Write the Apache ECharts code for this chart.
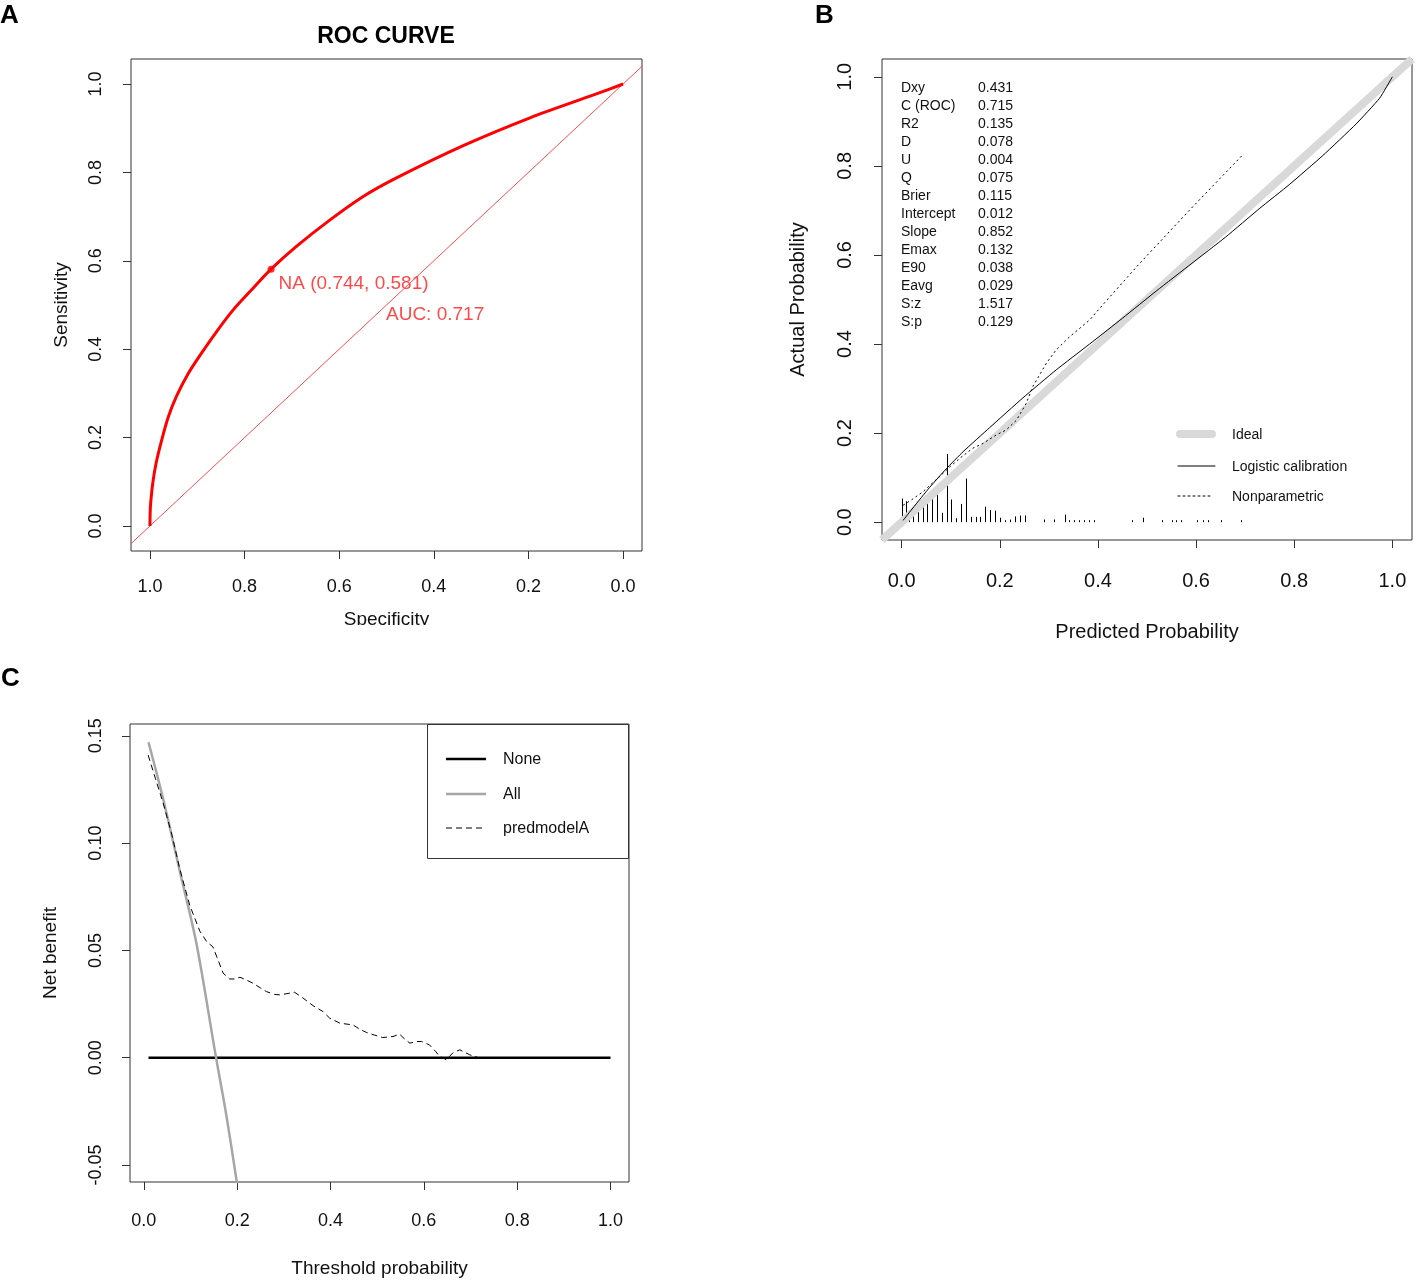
<!DOCTYPE html>
<html>
  <head>
    <meta charset="utf-8" />
    <title>ROC / calibration / decision curve</title>
    <script src="https://cdn.jsdelivr.net/npm/echarts@6.0.0/dist/echarts.min.js"></script>
    <style>
      * {
        margin: 0;
        padding: 0;
        box-sizing: border-box;
      }
      body {
        background: #fff;
      }
    </style>
  </head>
  <body>
    <div id="main" style="width: 1416px; height: 1282px"></div>
    <script type="text/javascript">
      const FONT = "Liberation Sans, Arial, sans-serif";

      // A - ROC curve (specificity / sensitivity)
      const rocSpec = [1.0, 0.9995, 0.9985, 0.994, 0.987, 0.975, 0.961, 0.944, 0.919, 0.891, 0.859, 0.824, 0.782, 0.744, 0.691, 0.62, 0.55, 0.48, 0.339, 0.198, 0.058, 0.0];
      const rocSens = [0.0, 0.03, 0.051, 0.097, 0.142, 0.195, 0.247, 0.293, 0.345, 0.391, 0.44, 0.489, 0.538, 0.581, 0.632, 0.692, 0.745, 0.787, 0.86, 0.923, 0.977, 1.0];
      const rocChance = [[1.04, -0.04], [-0.04, 1.04]];
      const bestThreshold = { name: "NA", spec: 0.744, sens: 0.581 };
      const rocAuc = 0.717;
      const aucTextAt = [0.5, 0.5];
      const unitTicks = [0, 0.2, 0.4, 0.6, 0.8, 1.0];

      // B - calibration
      const idealLine = [[-0.04, -0.04], [1.04, 1.04]];
      const logisticX = [0.003, 0.023, 0.057, 0.091, 0.125, 0.179, 0.247, 0.315, 0.383, 0.45, 0.52, 0.59, 0.66, 0.73, 0.79, 0.858, 0.926, 0.974, 1.0];
      const logisticY = [0.004, 0.032, 0.078, 0.12, 0.158, 0.212, 0.279, 0.342, 0.4, 0.458, 0.52, 0.58, 0.64, 0.705, 0.758, 0.823, 0.894, 0.952, 1.0];
      const nonparX = [0.003, 0.02, 0.043, 0.077, 0.098, 0.118, 0.145, 0.166, 0.193, 0.213, 0.234, 0.254, 0.267, 0.295, 0.315, 0.342, 0.383, 0.417, 0.485, 0.587, 0.697];
      const nonparY = [0.038, 0.05, 0.068, 0.102, 0.124, 0.143, 0.166, 0.177, 0.196, 0.207, 0.229, 0.267, 0.304, 0.357, 0.387, 0.416, 0.454, 0.497, 0.581, 0.701, 0.827];
      const spikeX = [0, 0.009, 0.016, 0.024, 0.033, 0.043, 0.051, 0.061, 0.072, 0.082, 0.092, 0.1, 0.11, 0.121, 0.132, 0.142, 0.151, 0.16, 0.17, 0.181, 0.191, 0.201, 0.211, 0.221, 0.231, 0.241, 0.251,
        0.291, 0.31, 0.332, 0.341, 0.351, 0.361, 0.371, 0.381, 0.391, 0.469, 0.491, 0.531, 0.551, 0.559, 0.57, 0.601, 0.614, 0.624, 0.651, 0.692];
      const spikeH = [0.053, 0.047, 0.025, 0.028, 0.03, 0.037, 0.043, 0.064, 0.077, 0.021, 0.153, 0.051, 0.009, 0.041, 0.098, 0.012, 0.012, 0.012, 0.035, 0.027, 0.026, 0.01, 0.0045, 0.006, 0.013, 0.015, 0.015,
        0.006, 0.006, 0.017, 0.0045, 0.0045, 0.0045, 0.0045, 0.0045, 0.0045, 0.0045, 0.01, 0.0045, 0.0045, 0.0045, 0.0045, 0.0045, 0.0045, 0.0045, 0.0045, 0.0045];
      const statNames = ["Dxy", "C (ROC)", "R2", "D", "U", "Q", "Brier", "Intercept", "Slope", "Emax", "E90", "Eavg", "S:z", "S:p"];
      const statValues = ["0.431", "0.715", "0.135", "0.078", "0.004", "0.075", "0.115", "0.012", "0.852", "0.132", "0.038", "0.029", "1.517", "0.129"];

      // C - decision curve
      const noneX = [0.01, 1.0];
      const noneY = [0, 0];
      const allX = [0.01, 0.041, 0.077, 0.113, 0.154, 0.177, 0.2];
      const allY = [0.147, 0.121, 0.087, 0.053, 0.001, -0.027, -0.059];
      const modelX = [0.0093, 0.025, 0.041, 0.06, 0.077, 0.0985, 0.12, 0.135, 0.148, 0.16, 0.17, 0.184, 0.195, 0.206, 0.22, 0.234, 0.25, 0.263, 0.28, 0.291, 0.305, 0.323, 0.34, 0.363, 0.384, 0.398,
        0.42, 0.448, 0.465, 0.477, 0.495, 0.512, 0.534, 0.548, 0.56, 0.57, 0.583, 0.595, 0.612, 0.625, 0.634, 0.648, 0.662, 0.677, 0.698, 0.716];
      const modelY = [0.141, 0.13, 0.119, 0.104, 0.088, 0.071, 0.059, 0.054, 0.0517, 0.045, 0.0394, 0.0367, 0.0367, 0.0375, 0.0362, 0.0347, 0.0325, 0.0308, 0.0295, 0.0293, 0.0298, 0.0305, 0.028, 0.0242, 0.0215, 0.0185,
        0.0161, 0.0153, 0.013, 0.0118, 0.0105, 0.0094, 0.0099, 0.011, 0.0085, 0.0068, 0.0075, 0.0076, 0.006, 0.003, 0.0006, -0.0009, 0.0022, 0.0037, 0.0014, 0.0001];
      const nbTicks = [-0.05, 0, 0.05, 0.1, 0.15];

      const zip = (xs, ys) => xs.map((x, i) => [x, ys[i]]);

      function axis(o) {
        return Object.assign(
          {
            type: "value",
            gridIndex: o.grid,
            min: o.min,
            max: o.max,
            name: o.name,
            nameLocation: "middle",
            nameGap: o.nameGap,
            nameTextStyle: { fontSize: o.nameSize, color: "#111", fontFamily: FONT },
            axisLine: { show: false, onZero: false },
            splitLine: { show: false },
            axisTick: {
              show: true,
              length: 8,
              customValues: o.ticks,
              lineStyle: { color: "#333", width: 1 },
            },
            axisLabel: {
              customValues: o.ticks,
              fontSize: o.labelSize,
              margin: o.margin,
              rotate: o.rotate || 0,
              color: "#111",
              fontFamily: FONT,
              formatter: (v) => v.toFixed(o.digits),
            },
          },
          o.extra || {}
        );
      }

      const gridStyle = {
        show: true,
        borderColor: "#333",
        borderWidth: 1,
        backgroundColor: "transparent",
        containLabel: false,
        outerBoundsMode: "none",
      };

      // stats table + legends (drawn as plain graphics, R style)
      const graphics = [
        { type: "text", left: 0, top: 3, style: { text: "A", font: "bold 26px " + FONT, fill: "#000" } },
        { type: "text", left: 815, top: 3, style: { text: "B", font: "bold 26px " + FONT, fill: "#000" } },
        { type: "text", left: 1, top: 666, style: { text: "C", font: "bold 26px " + FONT, fill: "#000" } },
        {
          type: "text",
          x: 386,
          y: 37,
          style: { text: "ROC CURVE", font: "bold 23px " + FONT, fill: "#000", align: "center", verticalAlign: "middle" },
        },
        // reference crops the bottom of panel A
        { type: "rect", shape: { x: 300, y: 625, width: 180, height: 30 }, style: { fill: "#fff" }, z: 100 },
      ];

      statNames.forEach((n, i) => {
        const y = 88.5 + i * 17.95;
        graphics.push({
          type: "text",
          x: 901,
          y: y,
          style: { text: n, font: "14px " + FONT, fill: "#111", verticalAlign: "middle" },
        });
        graphics.push({
          type: "text",
          x: 978,
          y: y,
          style: { text: statValues[i], font: "14px " + FONT, fill: "#111", verticalAlign: "middle" },
        });
      });

      const legendB = [
        { text: "Ideal", y: 434, stroke: "#d9d9d9", width: 8, dash: null, x1: 1180, x2: 1212 },
        { text: "Logistic calibration", y: 466, stroke: "#000", width: 1, dash: null, x1: 1178, x2: 1215 },
        { text: "Nonparametric", y: 496, stroke: "#000", width: 1, dash: [2, 3], x1: 1178, x2: 1213 },
      ];
      legendB.forEach((l) => {
        graphics.push({
          type: "line",
          shape: { x1: l.x1, y1: l.y, x2: l.x2, y2: l.y },
          style: { stroke: l.stroke, lineWidth: l.width, lineDash: l.dash, lineCap: "round" },
        });
        graphics.push({
          type: "text",
          x: 1232,
          y: l.y + 1,
          style: { text: l.text, font: "14px " + FONT, fill: "#111", verticalAlign: "middle" },
        });
      });

      graphics.push({
        type: "rect",
        shape: { x: 427.5, y: 724.5, width: 201, height: 134 },
        style: { fill: "#fff", stroke: "#333", lineWidth: 1 },
        z: 50,
      });
      const legendC = [
        { text: "None", y: 759, stroke: "#000", width: 2.5, dash: null },
        { text: "All", y: 794, stroke: "#a6a6a6", width: 2.5, dash: null },
        { text: "predmodelA", y: 828, stroke: "#000", width: 1, dash: [6, 4] },
      ];
      legendC.forEach((l) => {
        graphics.push({
          type: "line",
          shape: { x1: 446, y1: l.y, x2: 486, y2: l.y },
          style: { stroke: l.stroke, lineWidth: l.width, lineDash: l.dash },
          z: 51,
        });
        graphics.push({
          type: "text",
          x: 503,
          y: l.y + 1,
          style: { text: l.text, font: "16px " + FONT, fill: "#111", verticalAlign: "middle" },
          z: 51,
        });
      });

      var myChart = echarts.init(document.getElementById("main"), null, { renderer: "canvas" });

      var option = {
        animation: false,
        backgroundColor: "#fff",
        grid: [
          Object.assign({ left: 131, top: 59, width: 511, height: 492 }, gridStyle),
          Object.assign({ left: 882, top: 59, width: 530, height: 481 }, gridStyle),
          Object.assign({ left: 130, top: 724, width: 499, height: 458 }, gridStyle),
        ],
        xAxis: [
          axis({ grid: 0, min: -0.04, max: 1.04, ticks: unitTicks, digits: 1, labelSize: 18, margin: 27, name: "Specificity", nameSize: 19, nameGap: 59, extra: { inverse: true } }),
          axis({ grid: 1, min: -0.04, max: 1.04, ticks: unitTicks, digits: 1, labelSize: 20, margin: 31, name: "Predicted Probability", nameSize: 20, nameGap: 82 }),
          axis({ grid: 2, min: -0.0296, max: 1.0396, ticks: unitTicks, digits: 1, labelSize: 18, margin: 30, name: "Threshold probability", nameSize: 19, nameGap: 77 }),
        ],
        yAxis: [
          axis({ grid: 0, min: -0.0566, max: 1.0566, ticks: unitTicks, digits: 1, labelSize: 18, margin: 26, rotate: 90, name: "Sensitivity", nameSize: 19, nameGap: 60 }),
          axis({ grid: 1, min: -0.04, max: 1.04, ticks: unitTicks, digits: 1, labelSize: 20, margin: 27, rotate: 90, name: "Actual Probability", nameSize: 20, nameGap: 74 }),
          axis({ grid: 2, min: -0.0579, max: 0.1555, ticks: nbTicks, digits: 2, labelSize: 18, margin: 25, rotate: 90, name: "Net benefit", nameSize: 19, nameGap: 70 }),
        ],
        graphic: graphics,
        series: [
          // A
          {
            type: "line",
            xAxisIndex: 0,
            yAxisIndex: 0,
            data: rocChance,
            symbol: "none",
            silent: true,
            lineStyle: { color: "#ff4d4d", width: 1 },
          },
          {
            type: "line",
            xAxisIndex: 0,
            yAxisIndex: 0,
            data: zip(rocSpec, rocSens),
            symbol: "none",
            smooth: 0.3,
            lineStyle: { color: "#ff0000", width: 3 },
          },
          {
            type: "scatter",
            xAxisIndex: 0,
            yAxisIndex: 0,
            data: [[bestThreshold.spec, bestThreshold.sens]],
            symbolSize: 7,
            itemStyle: { color: "#ff0000" },
            label: {
              show: true,
              position: [11, 18],
              align: "left",
              verticalAlign: "middle",
              color: "#ff1a1a",
              fontSize: 19,
              fontFamily: FONT,
              formatter: () =>
                bestThreshold.name + " (" + bestThreshold.spec.toFixed(3) + ", " + bestThreshold.sens.toFixed(3) + ")",
            },
          },
          {
            type: "scatter",
            xAxisIndex: 0,
            yAxisIndex: 0,
            data: [aucTextAt],
            symbolSize: 1,
            itemStyle: { color: "transparent" },
            label: {
              show: true,
              position: [0, 10],
              align: "left",
              verticalAlign: "middle",
              color: "#ff1a1a",
              fontSize: 19,
              fontFamily: FONT,
              formatter: () => "AUC: " + rocAuc.toFixed(3),
            },
          },
          // B
          {
            type: "line",
            xAxisIndex: 1,
            yAxisIndex: 1,
            data: idealLine,
            symbol: "none",
            silent: true,
            lineStyle: { color: "#d9d9d9", width: 8, cap: "butt" },
          },
          {
            type: "custom",
            xAxisIndex: 1,
            yAxisIndex: 1,
            data: zip(spikeX, spikeH),
            renderItem: function (params, api) {
              const p0 = api.coord([api.value(0), 0]);
              const p1 = api.coord([api.value(0), api.value(1)]);
              const x = Math.round(p0[0]) + 0.5;
              return {
                type: "line",
                shape: { x1: x, y1: p0[1], x2: x, y2: p1[1] },
                style: { stroke: "#000", lineWidth: 1 },
              };
            },
          },
          {
            type: "line",
            xAxisIndex: 1,
            yAxisIndex: 1,
            data: zip(logisticX, logisticY),
            symbol: "none",
            smooth: 0.15,
            lineStyle: { color: "#000", width: 1 },
          },
          {
            type: "line",
            xAxisIndex: 1,
            yAxisIndex: 1,
            data: zip(nonparX, nonparY),
            symbol: "none",
            lineStyle: { color: "#000", width: 1, type: [2, 3] },
          },
          // C
          {
            type: "line",
            xAxisIndex: 2,
            yAxisIndex: 2,
            data: zip(noneX, noneY),
            symbol: "none",
            lineStyle: { color: "#000", width: 2.5 },
          },
          {
            type: "line",
            xAxisIndex: 2,
            yAxisIndex: 2,
            data: zip(allX, allY),
            symbol: "none",
            smooth: 0.3,
            lineStyle: { color: "#a6a6a6", width: 2.5 },
          },
          {
            type: "line",
            xAxisIndex: 2,
            yAxisIndex: 2,
            data: zip(modelX, modelY),
            symbol: "none",
            lineStyle: { color: "#000", width: 1, type: [6, 4] },
          },
        ],
      };

      myChart.setOption(option);

      window.addEventListener("resize", function () {
        myChart.resize();
      });
    </script>
  </body>
</html>
